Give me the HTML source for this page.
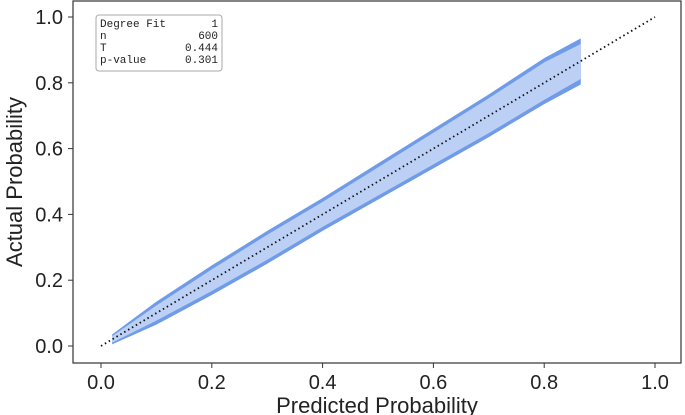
<!DOCTYPE html>
<html><head><meta charset="utf-8">
<style>
body{margin:0;background:#fff;}
svg{display:block;font-family:"Liberation Sans","DejaVu Sans",sans-serif;}
</style></head>
<body>
<svg id="chart" width="685" height="415" viewBox="0 0 685 415" xmlns="http://www.w3.org/2000/svg">
<g id="band"></g>
<g id="diag"></g>
<rect x="73" y="1" width="608" height="362" fill="none" stroke="#333" stroke-width="1.2"/>
<g id="ticks"></g>
<text x="22" y="182" font-size="22" fill="#222" text-anchor="middle" transform="rotate(-90 22 182)">Actual Probability</text>
<text x="377" y="413" font-size="22" fill="#222" text-anchor="middle">Predicted Probability</text>
<g font-family="'Liberation Mono','DejaVu Sans Mono',monospace" font-size="11" fill="#222">
<rect x="96" y="15" width="126" height="56" rx="3" fill="#fff" stroke="#aaa"/>
<text x="100" y="27">Degree Fit</text><text x="218" y="27" text-anchor="end">1</text>
<text x="100" y="39">n</text><text x="218" y="39" text-anchor="end">600</text>
<text x="100" y="51">T</text><text x="218" y="51" text-anchor="end">0.444</text>
<text x="100" y="63">p-value</text><text x="218" y="63" text-anchor="end">0.301</text>
</g>
</svg>
<script>
const xs=[0.02,0.1,0.2,0.3,0.4,0.5,0.6,0.7,0.8,0.866];
const upper=[0.035,0.135,0.245,0.35,0.45,0.555,0.66,0.765,0.875,0.935];
const lower=[0.005,0.065,0.155,0.25,0.35,0.445,0.54,0.635,0.735,0.795];
const innerUpper=[0.03,0.123,0.233,0.338,0.438,0.543,0.648,0.753,0.862,0.918];
const innerLower=[0.01,0.077,0.167,0.262,0.362,0.457,0.552,0.647,0.748,0.812];
const tickVals=[0,0.2,0.4,0.6,0.8,1.0];
const tickLabels=["0.0","0.2","0.4","0.6","0.8","1.0"];
const NS="http://www.w3.org/2000/svg";
function sx(v){return 101+v*554;}
function sy(v){return 346-v*329;}
function poly(up,lo,fill,name){
  let pts=[];
  for(let i=0;i<xs.length;i++)pts.push(sx(xs[i])+","+sy(up[i]));
  for(let i=xs.length-1;i>=0;i--)pts.push(sx(xs[i])+","+sy(lo[i]));
  const p=document.createElementNS(NS,"polygon");
  p.setAttribute("points",pts.join(" "));
  p.setAttribute("fill",fill);
  
  
  document.getElementById("band").appendChild(p);
}
poly(upper,lower,"#6f9be8","band-outer");
poly(innerUpper,innerLower,"#bcd0f6","band-inner");
const d=document.createElementNS(NS,"line");
d.setAttribute("x1",sx(0));d.setAttribute("y1",sy(0));d.setAttribute("x2",sx(1));d.setAttribute("y2",sy(1));
d.setAttribute("stroke","#111");d.setAttribute("stroke-width","1.8");d.setAttribute("stroke-dasharray","1.5 3");


document.getElementById("diag").appendChild(d);
const tg=document.getElementById("ticks");
tickVals.forEach((v,i)=>{
  const a=document.createElementNS(NS,"line");
  a.setAttribute("x1",sx(v));a.setAttribute("x2",sx(v));a.setAttribute("y1",363);a.setAttribute("y2",368);a.setAttribute("stroke","#333");
  
  
  tg.appendChild(a);
  const t=document.createElementNS(NS,"text");
  t.setAttribute("x",sx(v));t.setAttribute("y",389);t.setAttribute("text-anchor","middle");t.setAttribute("font-size","20");t.setAttribute("fill","#222");
  t.textContent=tickLabels[i];
  
  
  tg.appendChild(t);
  const b=document.createElementNS(NS,"line");
  b.setAttribute("x1",68);b.setAttribute("x2",73);b.setAttribute("y1",sy(v));b.setAttribute("y2",sy(v));b.setAttribute("stroke","#333");
  
  
  tg.appendChild(b);
  const u=document.createElementNS(NS,"text");
  u.setAttribute("x",63);u.setAttribute("y",sy(v)+7);u.setAttribute("text-anchor","end");u.setAttribute("font-size","20");u.setAttribute("fill","#222");
  u.textContent=tickLabels[i];
  
  
  tg.appendChild(u);
});
</script>
</body></html>
